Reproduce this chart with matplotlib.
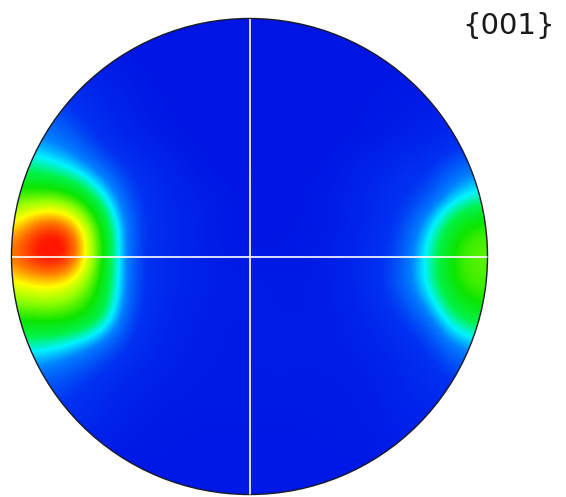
import numpy as np
import matplotlib
matplotlib.use('Agg')
import matplotlib.pyplot as plt
from matplotlib.colors import LinearSegmentedColormap
from matplotlib.patches import Circle

# Pole figure {001}: intensity read on a 17x17 grid (x, y from -1 to 1, step 1/8)
# rows go from top (y=1) to bottom (y=-1)
grid_x = np.linspace(-1, 1, 17)
grid_y = np.linspace(1, -1, 17)

row_p100 = [0.3, 0.3, 0.3, 0.3, 0.3, 0.3, 0.3, 0.3, 0.3, 0.3, 0.3, 0.3, 0.3, 0.3, 0.3, 0.3, 0.3]
row_p088 = [0.4, 0.4, 0.4, 0.4, 0.3, 0.3, 0.3, 0.3, 0.3, 0.3, 0.3, 0.3, 0.3, 0.3, 0.3, 0.3, 0.3]
row_p075 = [1.2, 1.2, 1.0, 0.8, 0.5, 0.3, 0.3, 0.3, 0.3, 0.3, 0.3, 0.3, 0.3, 0.4, 0.5, 0.5, 0.5]
row_p062 = [2.0, 2.0, 1.5, 1.0, 0.6, 0.4, 0.3, 0.3, 0.3, 0.3, 0.3, 0.3, 0.4, 0.5, 0.6, 0.7, 0.7]
row_p050 = [2.7, 2.5, 2.1, 1.3, 0.8, 0.5, 0.3, 0.3, 0.3, 0.3, 0.3, 0.3, 0.4, 0.6, 0.8, 1.1, 1.2]
row_p038 = [3.8, 3.5, 3.0, 2.1, 1.4, 0.9, 0.5, 0.3, 0.3, 0.3, 0.3, 0.5, 0.8, 1.2, 1.4, 2.2, 2.5]
row_p025 = [5.4, 5.6, 5.3, 3.4, 1.7, 1.1, 0.7, 0.5, 0.3, 0.3, 0.4, 0.6, 1.0, 1.4, 1.8, 3.0, 3.5]
row_p012 = [7.2, 9.2, 8.8, 4.9, 1.9, 1.2, 0.8, 0.5, 0.3, 0.3, 0.4, 0.6, 1.0, 1.6, 2.9, 5.0, 5.5]
row_000 = [8.5, 10.0, 9.8, 5.1, 1.8, 1.1, 0.8, 0.5, 0.4, 0.4, 0.5, 0.7, 1.2, 1.8, 3.4, 5.6, 5.7]
row_m012 = [6.8, 7.3, 6.9, 4.9, 1.9, 1.1, 0.8, 0.6, 0.6, 0.5, 0.5, 0.7, 1.2, 2.0, 3.3, 5.4, 5.6]
row_m025 = [5.2, 5.5, 5.4, 4.4, 1.6, 1.0, 0.7, 0.5, 0.5, 0.5, 0.5, 0.6, 1.0, 1.5, 2.3, 4.2, 4.8]
row_m038 = [3.5, 3.4, 3.0, 2.2, 1.4, 0.9, 0.6, 0.5, 0.5, 0.6, 0.5, 0.6, 0.8, 1.1, 1.5, 2.6, 2.9]
row_m050 = [2.4, 2.2, 1.8, 1.4, 1.0, 0.7, 0.5, 0.5, 0.5, 0.5, 0.5, 0.5, 0.6, 0.9, 1.2, 1.7, 1.9]
row_m062 = [1.6, 1.6, 1.5, 1.0, 0.7, 0.5, 0.5, 0.5, 0.5, 0.5, 0.5, 0.5, 0.5, 0.8, 1.0, 1.1, 1.1]
row_m075 = [0.9, 0.9, 0.9, 0.8, 0.5, 0.5, 0.4, 0.4, 0.4, 0.4, 0.4, 0.5, 0.5, 0.7, 0.7, 0.7, 0.7]
row_m088 = [0.5, 0.5, 0.5, 0.5, 0.4, 0.4, 0.4, 0.4, 0.4, 0.4, 0.4, 0.4, 0.4, 0.5, 0.5, 0.5, 0.5]
row_m100 = [0.4, 0.4, 0.4, 0.4, 0.4, 0.4, 0.4, 0.4, 0.4, 0.4, 0.4, 0.4, 0.4, 0.4, 0.4, 0.4, 0.4]

intensity = np.array([row_p100, row_p088, row_p075, row_p062, row_p050, row_p038,
                      row_p025, row_p012, row_000, row_m012, row_m025, row_m038,
                      row_m050, row_m062, row_m075, row_m088, row_m100])

title = '{001}'

# jet-like colour scale as in the EBSD software
cmap = LinearSegmentedColormap.from_list('pf', [
    (0.00, (0.00, 0.06, 0.88)),
    (0.15, (0.00, 0.20, 0.95)),
    (0.25, (0.00, 0.50, 1.00)),
    (0.32, (0.00, 0.95, 1.00)),
    (0.40, (0.00, 0.95, 0.30)),
    (0.50, (0.05, 0.90, 0.00)),
    (0.62, (0.60, 1.00, 0.00)),
    (0.72, (1.00, 1.00, 0.00)),
    (0.82, (1.00, 0.50, 0.00)),
    (0.92, (1.00, 0.10, 0.00)),
    (1.00, (1.00, 0.00, 0.00)),
])

fig = plt.figure(figsize=(5.66, 4.97), dpi=100)
ax = fig.add_axes([11.5 / 566, 2.5 / 497, 476 / 566, 476 / 497])
ax.axis('off')

h = (grid_x[1] - grid_x[0]) / 2
im = ax.imshow(intensity, cmap=cmap, vmin=0, vmax=10,
               extent=(grid_x[0] - h, grid_x[-1] + h, grid_y[-1] - h, grid_y[0] + h),
               interpolation='bicubic', interpolation_stage='data', aspect='auto')
ax.set_xlim(-1, 1)
ax.set_ylim(-1, 1)

clip = Circle((0, 0), 1, transform=ax.transData)
im.set_clip_path(clip)

# cross lines
ax.plot([-1, 1], [0, 0], color='white', lw=1.2, clip_path=clip)
ax.plot([0, 0], [-1, 1], color='white', lw=1.2, clip_path=clip)

ax.add_patch(Circle((0, 0), 1, fill=False, edgecolor='#1a1a2a', lw=1.0, clip_on=False))

fig.text(509 / 566, 1 - 26 / 497, title, fontsize=21, ha='center', va='center', color='#1a1a1a')

fig.savefig('out.png', dpi=100)
